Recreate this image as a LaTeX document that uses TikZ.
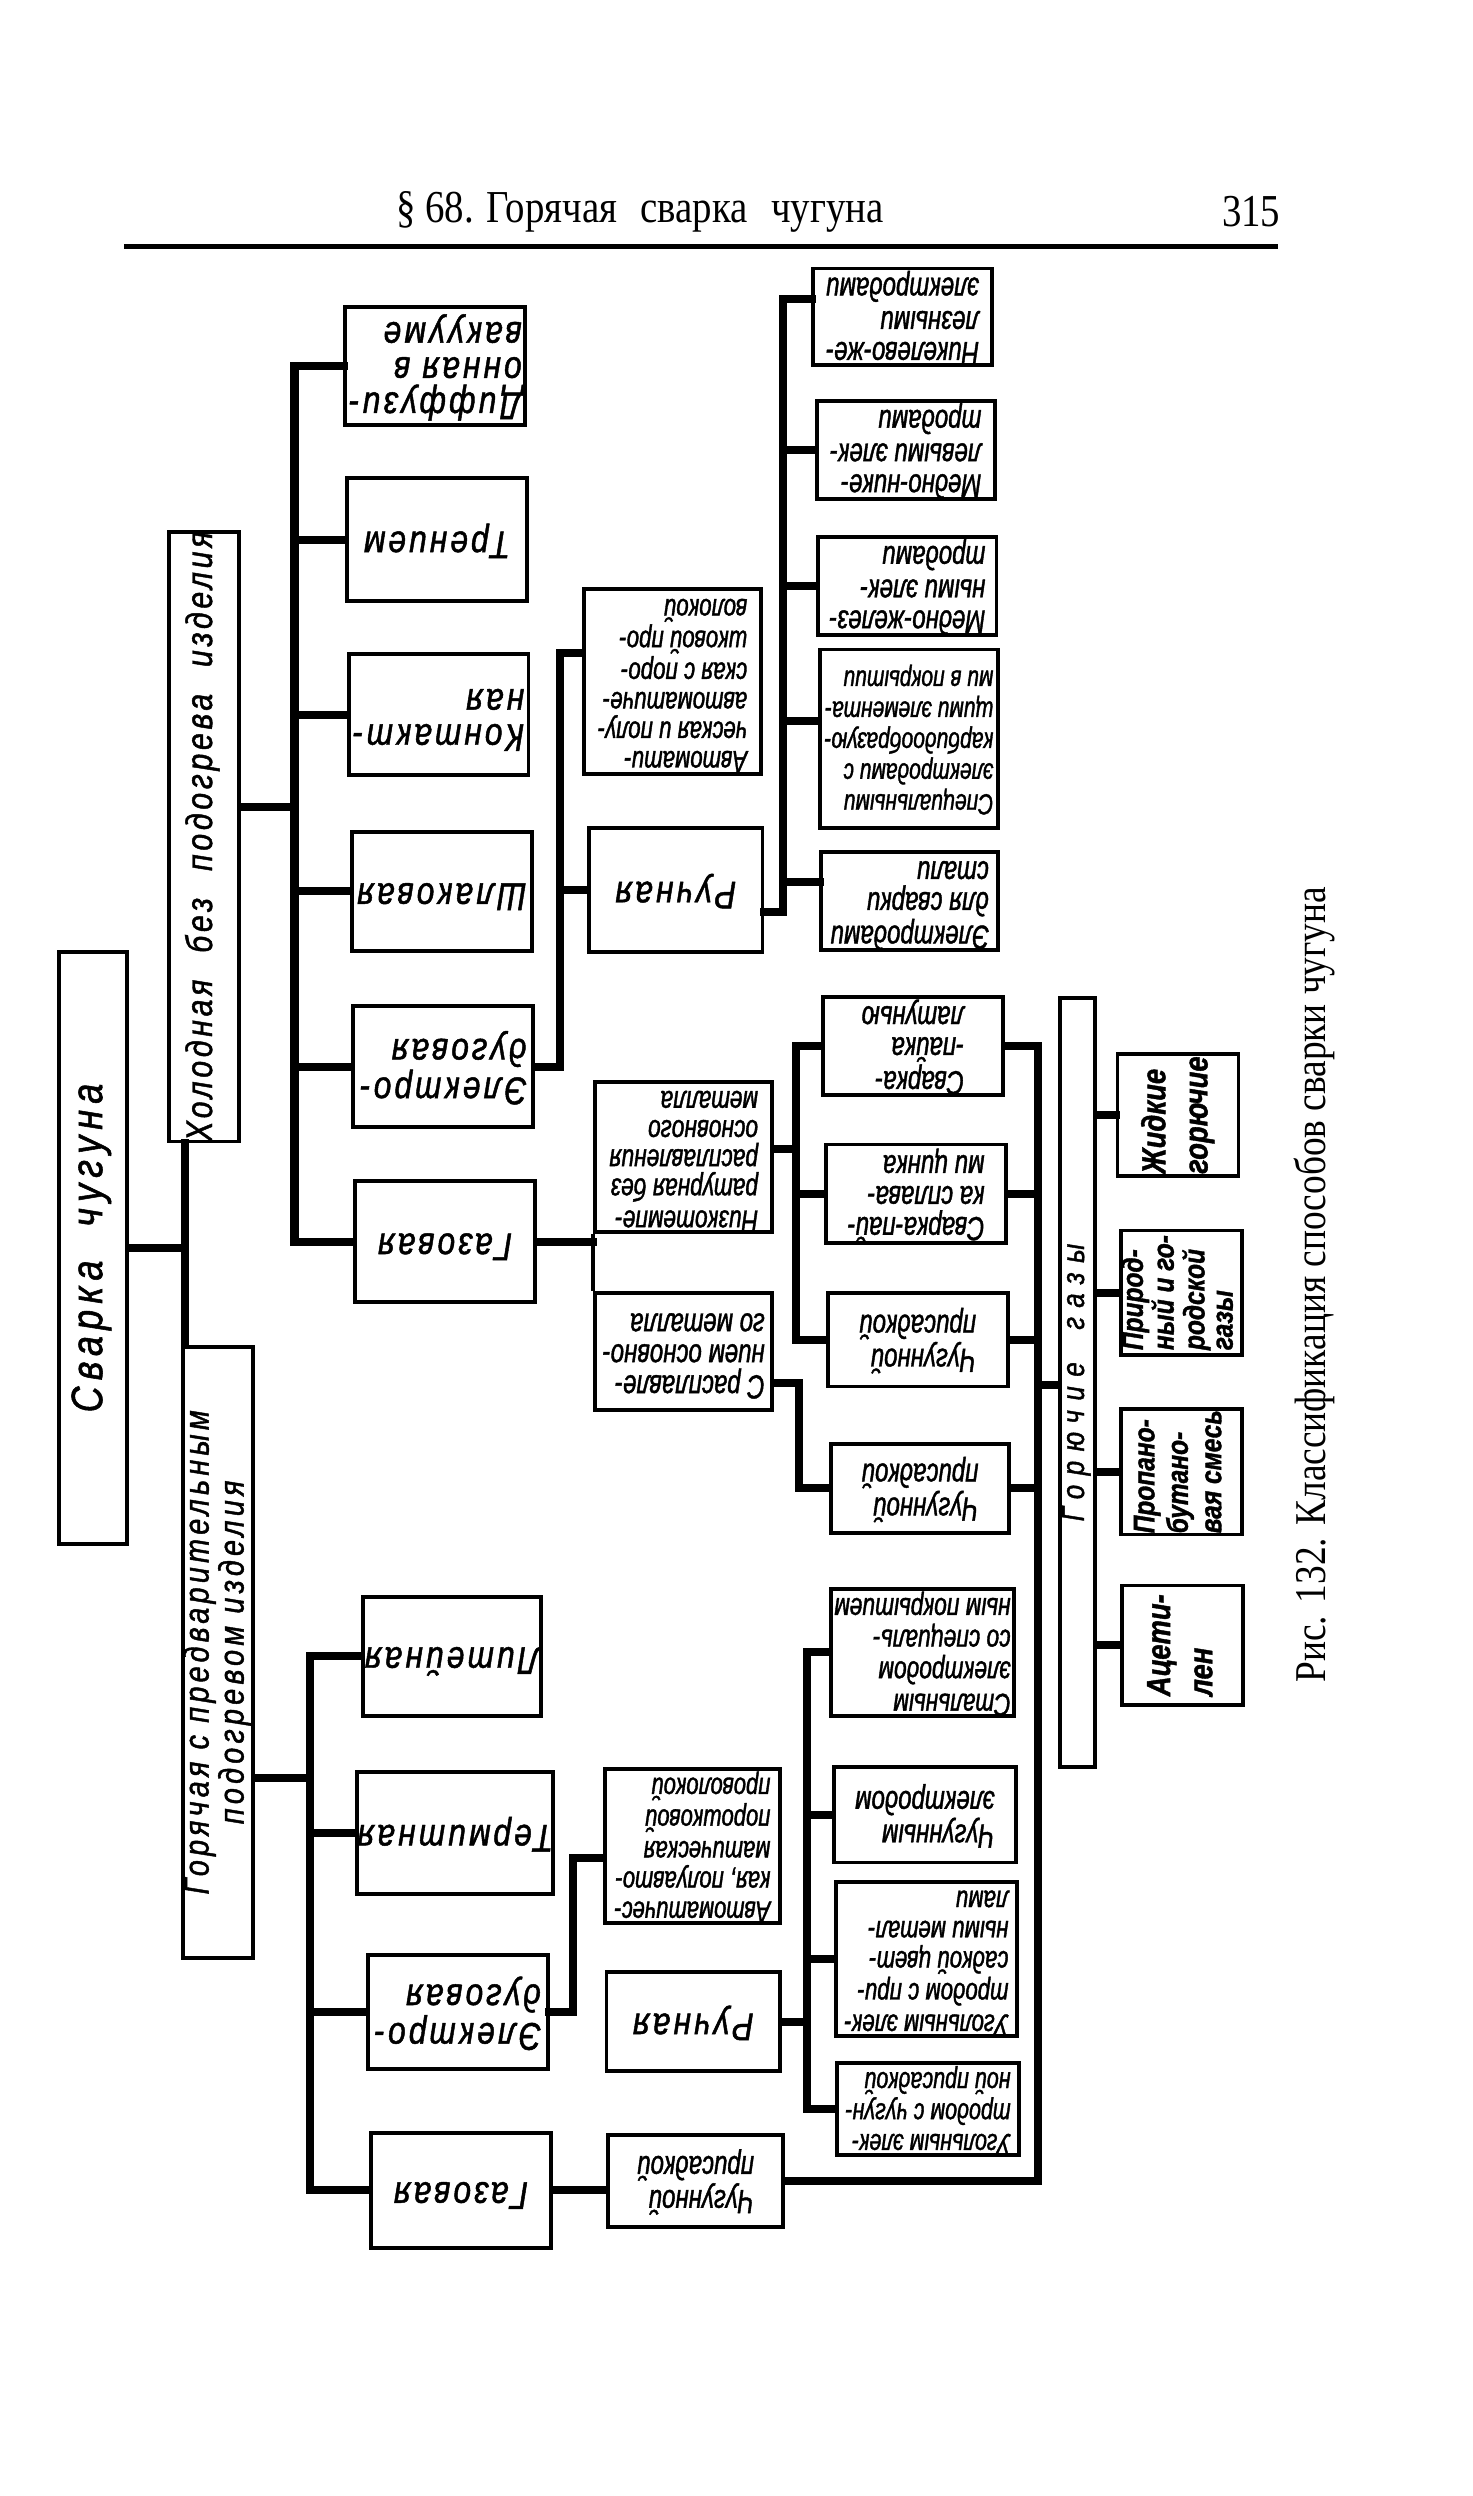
\documentclass[tikz,border=0pt]{standalone}
\usepackage{fontspec}
\usepackage{graphicx}
\setmainfont{Liberation Serif}
\newfontfamily\drf[FakeStretch=0.82, FakeBold=1.2]{Liberation Sans}
\newfontfamily\drn[FakeStretch=0.72, FakeBold=1.2]{Liberation Sans}
\newfontfamily\hdf[FakeStretch=0.85]{Liberation Serif}
\newcommand\pxu{0.4528pt}
\newcommand\flip[1]{\rotatebox{180}{\begin{tabular}{@{}l@{}}#1\end{tabular}}}
\newcommand\turn[2][l]{\rotatebox{90}{\begin{tabular}{@{}#1@{}}#2\end{tabular}}}

\begin{document}
\begin{tikzpicture}[x=\pxu, y=-\pxu,
    box/.style={draw, line width=1.1pt, inner sep=0pt,
      font=\drn\itshape\fontsize{9.5}{8.8}\selectfont},
    fs/.style 2 args={font=\drn\itshape\fontsize{#1}{#2}\selectfont},
    word/.style={font=\drf\itshape\fontsize{11}{10}\selectfont\addfontfeature{LetterSpace=8}},
    gas/.style={font=\drf\itshape\bfseries\fontsize{8.5}{8}\selectfont},
    sz/.style 2 args={minimum width=#1*\pxu, minimum height=#2*\pxu},
    link/.style={line width=2.3pt, line cap=rect},
    seam/.style={line width=1.1pt}]
\useasboundingbox (0,0) rectangle (925,1568);
%
\node[font=\hdf\fontsize{13}{13}\selectfont] (title) at (402,133)
  {\S~68. Горячая\hspace{0.3em} сварка\hspace{0.3em} чугуна};
\node[font=\hdf\fontsize{13}{13}\selectfont] (page) at (786,133) {315};
\draw[line width=1.3pt] (78,155) -- (803,155);
\node[rotate=90, font=\hdf\fontsize{12.5}{12.5}\selectfont] (caption) at (826,807)
  {Рис. 132. Классификация способов сварки чугуна};
%
\node[box, sz={43}{372}, font=\drf\itshape\fontsize{12.5}{12}\selectfont\addfontfeature{LetterSpace=14}]
  (root) at (58.5,784) {\turn{Сварка\hspace{0.4em} чугуна}};
\node[box, sz={44}{365}, font=\drf\itshape\fontsize{10.5}{10}\selectfont\addfontfeature{LetterSpace=10}]
  (cold) at (128,525.5) {\turn{Холодная\hspace{0.4em} без\hspace{0.4em} подогрева\hspace{0.4em} изделия}};
\node[box, sz={42}{384}, font=\drf\itshape\fontsize{10}{9}\selectfont\addfontfeature{LetterSpace=12}]
  (hot) at (137,1038) {\turn[c]{Горячая с предварительным\\подогревом изделия}};
%
\node[box, word, sz={113}{74}] (cdif) at (273.5,230) {\flip{Диффузи-\\онная в\\вакууме}};
\node[box, word, sz={113}{77}] (ctren) at (274.5,339) {\flip{Трением}};
\node[box, word, sz={113}{76}] (ckont) at (275.5,449) {\flip{Контакт-\\ная}};
\node[box, word, sz={113}{75}] (cshl) at (277.5,560) {\flip{Шлаковая}};
\node[box, word, sz={113}{76}] (celek) at (278.5,670) {\flip{Электро-\\дуговая}};
\node[box, word, sz={113}{76}] (cgaz) at (279.5,780) {\flip{Газовая}};
%
\node[box, fs={8.8}{8.4}, sz={111}{116}] (cauto) at (422.5,428) {\flip{Автомати-\\ческая и полу-\\автоматиче-\\ская с поро-\\шковой про-\\волокой}};
\node[box, word, sz={109}{78}] (cruch) at (424.5,559) {\flip{Ручная}};
\node[box, sz={112}{58}] (cnik) at (567,199) {\flip{Никелево-же-\\лезными\\электродами}};
\node[box, sz={112}{57}] (cmni) at (569,282.5) {\flip{Медно-нике-\\левыми элек-\\тродами}};
\node[box, sz={112}{56}] (cmzh) at (570,368) {\flip{Медно-желез-\\ными элек-\\тродами}};
\node[box, fs={8.3}{8.8}, sz={112}{112}] (cspec) at (571,464)
  {\flip{Специальными\\электродами с\\карбидообразую-\\щими элемента-\\ми в покрытии}};
\node[box, sz={111}{58}] (celst) at (571.5,566) {\flip{Электродами\\для сварки\\стали}};
%
\node[box, fs={9}{8.3}, sz={111}{92}] (cnizk) at (429.5,727) {\flip{Низкотемпе-\\ратурная без\\расплавления\\основного\\металла}};
\node[box, sz={111}{74}] (crasp) at (429.5,849) {\flip{С расплавле-\\нием основно-\\го металла}};
\node[box, sz={113}{56}] (clat) at (573.5,657) {\flip{Сварка-\\-пайка\\латунью}};
\node[box, sz={113}{62}] (ccink) at (575.5,750) {\flip{Сварка-пай-\\ка сплава-\\ми цинка}};
\node[box, sz={113}{59}] (cchug1) at (576.5,841.5) {\flip{Чугунной\\присадкой}};
\node[box, sz={112}{56}] (cchug2) at (578,935) {\flip{Чугунной\\присадкой}};
%
\node[box, sz={22}{483}, font=\drf\itshape\fontsize{9}{9}\selectfont\addfontfeature{LetterSpace=30}]
  (fuel) at (677,868.5) {\turn{Горючие\hspace{0.5em} газы}};
\node[box, gas, sz={76}{77}, font=\drf\itshape\bfseries\fontsize{9.5}{12}\selectfont] (gzh) at (740,700.5) {\turn{Жидкие\\горючие}};
\node[box, gas, sz={76}{78}] (gpr) at (742,812) {\turn{Природ-\\ный и го-\\родской\\газы}};
\node[box, gas, sz={76}{79}, font=\drf\itshape\bfseries\fontsize{8.5}{9.5}\selectfont] (gpb) at (742,924.5) {\turn{Пропано-\\бутано-\\вая смесь}};
\node[box, gas, sz={76}{75}, font=\drf\itshape\bfseries\fontsize{9.5}{12}\selectfont] (gac) at (743,1033.5) {\turn{Ацети-\\лен}};
%
\node[box, word, sz={112}{75}] (hlit) at (284,1040.5) {\flip{Литейная}};
\node[box, word, sz={112}{77}] (hterm) at (286,1151.5) {\flip{Термитная}};
\node[box, word, sz={113}{72}] (helek) at (287.5,1264) {\flip{Электро-\\дуговая}};
\node[box, word, sz={113}{72}] (hgaz) at (289.5,1376) {\flip{Газовая}};
%
\node[box, fs={8.7}{8.6}, sz={110}{95}] (hauto) at (435,1159.5) {\flip{Автоматичес-\\кая, полуавто-\\матическая\\порошковой\\проволокой}};
\node[box, word, sz={109}{62}] (hruch) at (435.5,1270) {\flip{Ручная}};
\node[box, sz={110}{58}] (hchp) at (437,1370) {\flip{Чугунной\\присадкой}};
\node[box, fs={9}{9}, sz={115}{80}] (hstal) at (579.5,1038) {\flip{Стальным\\электродом\\со специаль-\\ным покрытием}};
\node[box, sz={114}{60}] (hchug) at (581,1140) {\flip{Чугунным\\электродом}};
\node[box, fs={8.8}{8.6}, sz={114}{95}] (hug1) at (582,1230.5) {\flip{Угольным элек-\\тродом с при-\\садкой цвет-\\ными метал-\\лами}};
\node[box, fs={8.5}{8.6}, sz={114}{58}] (hug2) at (583,1325) {\flip{Угольным элек-\\тродом с чугун-\\ной присадкой}};
%
\coordinate (tk) at (116,784);
\draw[link] (root) -- (tk);
\draw[link] (tk |- cold.south) -- (tk |- hot.north);
%
\coordinate (cb) at (185,507);
\draw[link] (cb -| cold.east) -- (cb);
\draw[link] (cb |- cdif) -- (cb |- cgaz);
\draw[link] (cb |- cdif) -- (cdif);
\draw[link] (cb |- ctren) -- (ctren);
\draw[link] (cb |- ckont) -- (ckont);
\draw[link] (cb |- cshl) -- (cshl);
\draw[link] (cb |- celek) -- (celek);
\draw[link] (cb |- cgaz) -- (cgaz);
%
\coordinate (ce) at (352,410);
\draw[link] (celek) -- (celek -| ce) -- (ce) -- (ce -| cauto.west);
\draw[link] (ce |- cruch) -- (cruch);
\coordinate (cr) at (492,573);
\coordinate (cn) at (492,188);
\draw[link] (cr -| cruch.east) -- (cr) -- (cn) -- (cn -| cnik.west);
\draw[link] (cr |- cmni) -- (cmni);
\draw[link] (cr |- cmzh) -- (cmzh);
\coordinate (cs) at (492,453);
\draw[link] (cs) -- (cs -| cspec.west);
\coordinate (cl) at (492,554);
\draw[link] (cl) -- (cl -| celst.west);
%
\draw[link] (cgaz) -- (cgaz -| cnizk.west);
\draw[seam] (cnizk.south west) -- (crasp.north west);
\coordinate (cz) at (500,722);
\draw[link] (cz -| cnizk.east) -- (cz);
\draw[link] (cz |- clat) -- (cz |- cchug1);
\draw[link] (cz |- clat) -- (clat);
\draw[link] (cz |- ccink) -- (ccink);
\draw[link] (cz |- cchug1) -- (cchug1);
\coordinate (cy) at (502,869);
\draw[link] (cy -| crasp.east) -- (cy) -- (cy |- cchug2) -- (cchug2);
%
\coordinate (gb) at (652,870);
\draw[link] (gb |- clat) -- (gb |- hchp);
\draw[link] (clat) -- (clat -| gb);
\draw[link] (ccink) -- (ccink -| gb);
\draw[link] (cchug1) -- (cchug1 -| gb);
\draw[link] (cchug2) -- (cchug2 -| gb);
\draw[link] (hchp) -- (hchp -| gb);
\draw[link] (gb) -- (gb -| fuel.west);
\draw[link] (fuel.east |- gzh) -- (gzh);
\draw[link] (fuel.east |- gpr) -- (gpr);
\draw[link] (fuel.east |- gpb) -- (gpb);
\draw[link] (fuel.east |- gac) -- (gac);
%
\coordinate (hb) at (195,1117);
\draw[link] (hb -| hot.east) -- (hb);
\draw[link] (hb |- hlit) -- (hb |- hgaz);
\draw[link] (hb |- hlit) -- (hlit);
\draw[link] (hb |- hterm) -- (hterm);
\draw[link] (hb |- helek) -- (helek);
\draw[link] (hb |- hgaz) -- (hgaz);
%
\coordinate (he) at (360,1167);
\draw[link] (helek) -- (helek -| he) -- (he) -- (he -| hauto.west);
\draw[link] (hgaz) -- (hgaz -| hchp.west);
\coordinate (hr) at (507,1270);
\draw[link] (hruch) -- (hr);
\draw[link] (hr |- hstal) -- (hr |- hug2);
\draw[link] (hr |- hstal) -- (hstal);
\draw[link] (hr |- hchug) -- (hchug);
\draw[link] (hr |- hug1) -- (hug1);
\draw[link] (hr |- hug2) -- (hug2);
%
\end{tikzpicture}
\end{document}
